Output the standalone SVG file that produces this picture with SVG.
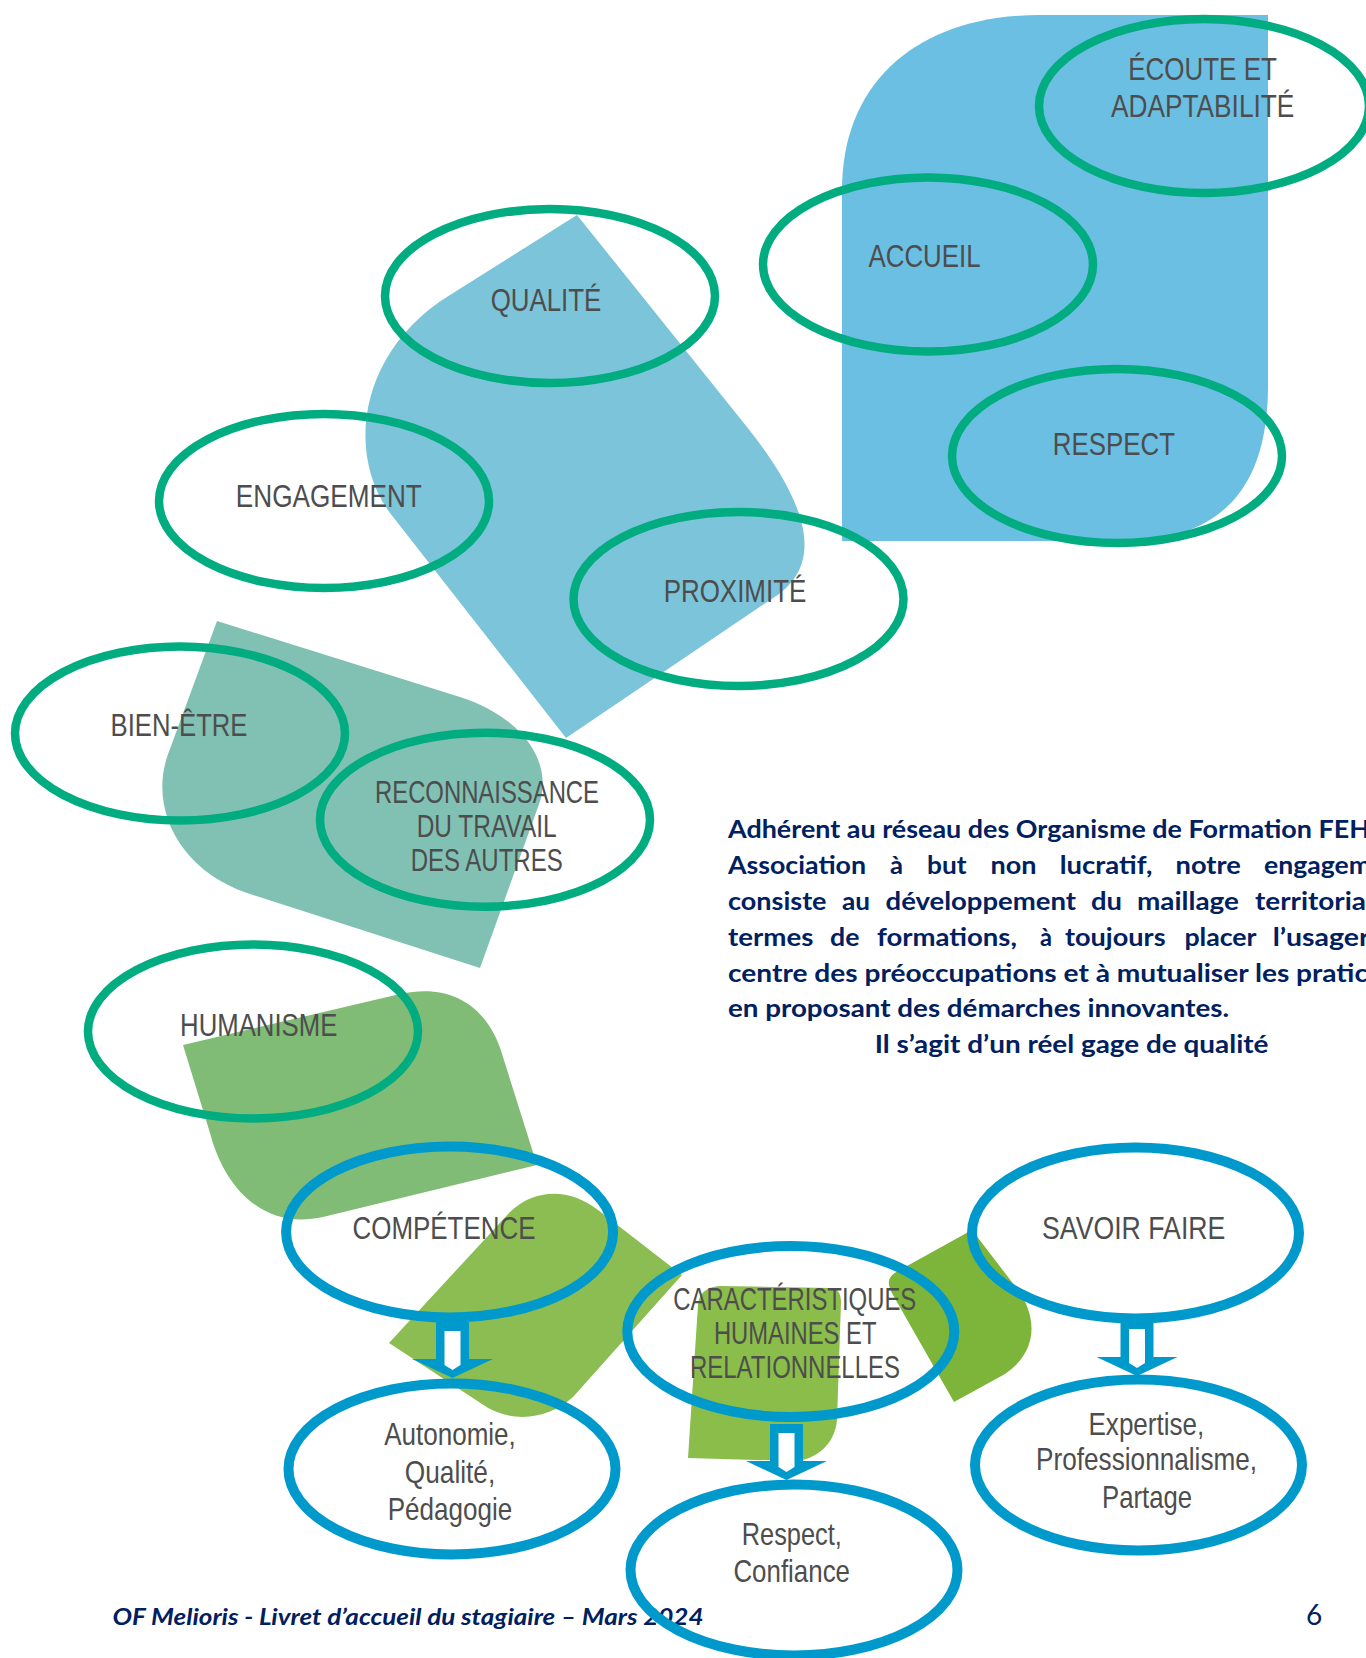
<svg xmlns="http://www.w3.org/2000/svg" xmlns:xlink="http://www.w3.org/1999/xlink" width="1366" height="1658" viewBox="0 0 1366 1658">
<defs>
<style>
.g{fill:none;stroke:#00AC80;stroke-width:8.5}
.b{fill:none;stroke:#0099CC;stroke-width:10}
.lbl{font-family:"Liberation Sans Narrow","Liberation Sans",Arial,sans-serif;font-size:30.5px;fill:#4D4D4D;text-anchor:middle}
.par{font-family:Lato,"Liberation Sans",sans-serif;font-weight:bold;font-size:25px;fill:#002060}
.foot{font-family:Lato,"Liberation Sans",sans-serif;font-weight:bold;font-style:italic;font-size:23px;fill:#002060}
.num{font-family:Lato,"Liberation Sans",sans-serif;font-size:28px;fill:#002060}
</style>
<g id="arr">
<path d="M -16.5,0 H 16.5 V 37 H 40.5 L 0,56 L -40.5,37 H -16.5 Z" fill="#0099CC"/>
<path d="M -8,9 H 8 V 43 L 0,48 L -8,43 Z" fill="#FFFFFF"/>
</g>
</defs>
<rect width="1366" height="1658" fill="#FFFFFF"/>
<g id="decor">
<path d="M 842,541 L 842,190 C 842,80 920,15 1040,15 L 1268,15 L 1268,385 C 1268,490 1220,541 1120,541 Z" fill="#6BBFE3"/>
<path d="M 577,215 L 747,427 C 805,500 830,565 770,600 L 566,738 L 390,513 C 345,452 360,350 450,295 Z" fill="#7CC4DA"/>
<path d="M 217,621 L 460,697 C 525,718 555,765 538,807 L 480,968 L 247,893 C 180,870 150,810 167,757 Z" fill="#80C1B4"/>
<path d="M 183,1045 L 400,994 C 455,982 490,1010 503,1057 L 537,1165 L 323,1217 C 265,1230 225,1190 210,1133 Z" fill="#80BC75"/>
<path d="M 389,1343 L 510,1212 C 535,1188 570,1188 598,1210 L 682,1275 L 573,1397 C 548,1420 510,1424 482,1404 Z" fill="#8BBD52"/>
<path d="M 688,1458 L 698,1305 C 699,1292 708,1286 722,1286 L 830,1288 C 838,1288 841,1294 841,1302 L 837,1420 C 835,1445 815,1460 795,1461 Z" fill="#8BBD4B"/>
<path d="M 954,1402 L 893,1295 C 886,1283 888,1276 898,1271 L 972,1230 L 1018,1290 C 1036,1315 1040,1350 1005,1374 Z" fill="#7DB43A"/>
</g>
<g id="paragraph" class="par">
<text x="728" y="838.3" textLength="642" lengthAdjust="spacingAndGlyphs">Adhérent au réseau des Organisme de Formation FEH</text>
<text y="874.3"><tspan x="728" textLength="138" lengthAdjust="spacingAndGlyphs">Association</tspan><tspan x="890" textLength="13" lengthAdjust="spacingAndGlyphs">à</tspan><tspan x="927" textLength="39.5" lengthAdjust="spacingAndGlyphs">but</tspan><tspan x="990.6" textLength="46" lengthAdjust="spacingAndGlyphs">non</tspan><tspan x="1059.7" textLength="92.7" lengthAdjust="spacingAndGlyphs">lucratif,</tspan><tspan x="1175.6" textLength="65.2" lengthAdjust="spacingAndGlyphs">notre</tspan><tspan x="1264" textLength="107" lengthAdjust="spacingAndGlyphs">engagem</tspan></text>
<text y="910"><tspan x="728" textLength="98.5" lengthAdjust="spacingAndGlyphs">consiste</tspan><tspan x="842" textLength="28" lengthAdjust="spacingAndGlyphs">au</tspan><tspan x="885.6" textLength="190.4" lengthAdjust="spacingAndGlyphs">développement</tspan><tspan x="1091" textLength="31" lengthAdjust="spacingAndGlyphs">du</tspan><tspan x="1137" textLength="102" lengthAdjust="spacingAndGlyphs">maillage</tspan><tspan x="1255" textLength="111" lengthAdjust="spacingAndGlyphs">territoria</tspan></text>
<text y="945.7"><tspan x="728" textLength="85.4" lengthAdjust="spacingAndGlyphs">termes</tspan><tspan x="830" textLength="29.4" lengthAdjust="spacingAndGlyphs">de</tspan><tspan x="876.9" textLength="140" lengthAdjust="spacingAndGlyphs">formations,</tspan><tspan x="1040" textLength="12" lengthAdjust="spacingAndGlyphs">à</tspan><tspan x="1065" textLength="100.6" lengthAdjust="spacingAndGlyphs">toujours</tspan><tspan x="1184.4" textLength="72.2" lengthAdjust="spacingAndGlyphs">placer</tspan><tspan x="1272.7" textLength="97" lengthAdjust="spacingAndGlyphs">l’usager</tspan></text>
<text x="728" y="981.7" textLength="640" lengthAdjust="spacingAndGlyphs">centre des préoccupations et à mutualiser les pratic</text>
<text x="728" y="1017.3" textLength="501" lengthAdjust="spacingAndGlyphs">en proposant des démarches innovantes.</text>
<text x="874.7" y="1053.3" textLength="393.7" lengthAdjust="spacingAndGlyphs">Il s’agit d’un réel gage de qualité</text>
</g>
<g id="footer">
<text class="foot" x="112.5" y="1625" textLength="591" lengthAdjust="spacingAndGlyphs">OF Melioris - Livret d’accueil du stagiaire – Mars 2024</text>
<text class="num" x="1306" y="1625">6</text>
</g>
<g id="connectors">
<use xlink:href="#arr" href="#arr" transform="translate(452.5,1322)"/>
<use xlink:href="#arr" href="#arr" transform="translate(786.5,1424)"/>
<use xlink:href="#arr" href="#arr" transform="translate(1137,1320)"/>
</g>
<g id="node-ecoute">
<ellipse class="g" cx="1204" cy="106" rx="165" ry="87"/>
<text class="lbl" x="1202.5" y="80" textLength="148.7" lengthAdjust="spacingAndGlyphs">ÉCOUTE ET</text>
<text class="lbl" x="1202.7" y="116.7" textLength="183.3" lengthAdjust="spacingAndGlyphs">ADAPTABILITÉ</text>
</g>
<g id="node-accueil">
<ellipse class="g" cx="928" cy="264.5" rx="165" ry="87"/>
<text class="lbl" x="924.5" y="267" textLength="112" lengthAdjust="spacingAndGlyphs">ACCUEIL</text>
</g>
<g id="node-respect">
<ellipse class="g" cx="1117" cy="456" rx="165" ry="87"/>
<text class="lbl" x="1114" y="455" textLength="122.3" lengthAdjust="spacingAndGlyphs">RESPECT</text>
</g>
<g id="node-qualite">
<ellipse class="g" cx="550" cy="296" rx="165" ry="87"/>
<text class="lbl" x="546" y="311" textLength="110.7" lengthAdjust="spacingAndGlyphs">QUALITÉ</text>
</g>
<g id="node-engagement">
<ellipse class="g" cx="324" cy="501" rx="165" ry="87"/>
<text class="lbl" x="328.8" y="507" textLength="186" lengthAdjust="spacingAndGlyphs">ENGAGEMENT</text>
</g>
<g id="node-proximite">
<ellipse class="g" cx="738.5" cy="599" rx="165" ry="87"/>
<text class="lbl" x="735" y="602" textLength="142.7" lengthAdjust="spacingAndGlyphs">PROXIMITÉ</text>
</g>
<g id="node-bienetre">
<ellipse class="g" cx="180" cy="733.5" rx="165" ry="87"/>
<text class="lbl" x="179" y="736" textLength="137" lengthAdjust="spacingAndGlyphs">BIEN-ÊTRE</text>
</g>
<g id="node-reconnaissance">
<ellipse class="g" cx="485" cy="819.7" rx="165" ry="87"/>
<text class="lbl" x="487" y="802.5" textLength="224" lengthAdjust="spacingAndGlyphs">RECONNAISSANCE</text>
<text class="lbl" x="486.7" y="837.3" textLength="140" lengthAdjust="spacingAndGlyphs">DU TRAVAIL</text>
<text class="lbl" x="486.7" y="870.7" textLength="152" lengthAdjust="spacingAndGlyphs">DES AUTRES</text>
</g>
<g id="node-humanisme">
<ellipse class="g" cx="253" cy="1031.5" rx="165" ry="87"/>
<text class="lbl" x="258.7" y="1036" textLength="157.3" lengthAdjust="spacingAndGlyphs">HUMANISME</text>
</g>
<g id="node-competence">
<ellipse class="b" cx="449.6" cy="1232" rx="163.5" ry="85.5"/>
<text class="lbl" x="444" y="1239" textLength="183" lengthAdjust="spacingAndGlyphs">COMPÉTENCE</text>
</g>
<g id="node-autonomie">
<ellipse class="b" cx="452" cy="1469" rx="163.5" ry="85.5"/>
<text class="lbl" x="450" y="1445" textLength="131.7" lengthAdjust="spacingAndGlyphs">Autonomie,</text>
<text class="lbl" x="450" y="1482.6" textLength="90.5" lengthAdjust="spacingAndGlyphs">Qualité,</text>
<text class="lbl" x="450" y="1520" textLength="124.5" lengthAdjust="spacingAndGlyphs">Pédagogie</text>
</g>
<g id="node-caracteristiques">
<ellipse class="b" cx="790.8" cy="1331.5" rx="163.5" ry="85.5"/>
<text class="lbl" x="794.8" y="1310" textLength="243" lengthAdjust="spacingAndGlyphs">CARACTÉRISTIQUES</text>
<text class="lbl" x="795.2" y="1344" textLength="162.6" lengthAdjust="spacingAndGlyphs">HUMAINES ET</text>
<text class="lbl" x="795" y="1378.3" textLength="210" lengthAdjust="spacingAndGlyphs">RELATIONNELLES</text>
</g>
<g id="node-respect-confiance">
<ellipse class="b" cx="794" cy="1570" rx="163.5" ry="85.5"/>
<text class="lbl" x="791.8" y="1544.8" textLength="100" lengthAdjust="spacingAndGlyphs">Respect,</text>
<text class="lbl" x="791.7" y="1582" textLength="116.6" lengthAdjust="spacingAndGlyphs">Confiance</text>
</g>
<g id="node-savoir-faire">
<ellipse class="b" cx="1135.5" cy="1233" rx="163.5" ry="85.5"/>
<text class="lbl" x="1133.7" y="1238.8" textLength="183.3" lengthAdjust="spacingAndGlyphs">SAVOIR FAIRE</text>
</g>
<g id="node-expertise">
<ellipse class="b" cx="1138.5" cy="1465" rx="163.5" ry="85.5"/>
<text class="lbl" x="1146.4" y="1434.5" textLength="115.8" lengthAdjust="spacingAndGlyphs">Expertise,</text>
<text class="lbl" x="1146.6" y="1470" textLength="221" lengthAdjust="spacingAndGlyphs">Professionnalisme,</text>
<text class="lbl" x="1147" y="1507.5" textLength="90" lengthAdjust="spacingAndGlyphs">Partage</text>
</g>
</svg>
